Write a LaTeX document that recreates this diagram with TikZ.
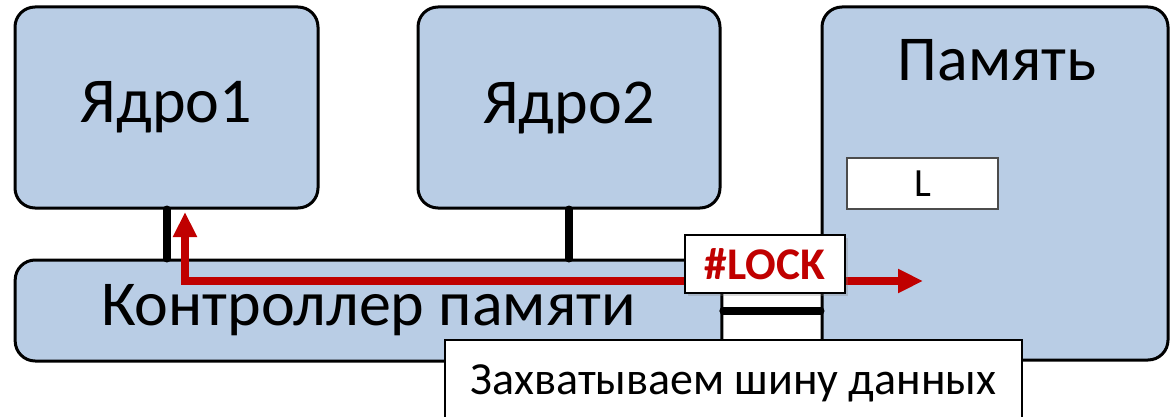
\documentclass[tikz,border=0pt]{standalone}
\usepackage{fontspec}
\setmainfont{Carlito}
\usetikzlibrary{arrows.meta,shadows}

\definecolor{unitblue}{RGB}{185,205,229}
\definecolor{lockred}{RGB}{192,0,0}

\begin{document}
\begin{tikzpicture}[x=0.75pt, y=-0.75pt,
        unit/.style={rectangle, draw=black, line width=2.25pt, rounded corners=15pt,
            fill=unitblue, inner sep=0pt, font=\fontsize{48}{52}\selectfont},
        cell/.style={rectangle, draw=black!70, line width=1.1pt, fill=white,
            minimum width=113pt, minimum height=38pt, font=\fontsize{30}{34}\selectfont},
        flag/.style={rectangle, draw=black, line width=1.6pt, fill=white,
            minimum width=120pt, minimum height=43.5pt,
            font=\fontsize{34}{38}\selectfont\bfseries, text=lockred,
            drop shadow={opacity=0.3, shadow xshift=2pt, shadow yshift=-2pt}},
        note/.style={rectangle, draw=black, line width=1.6pt, fill=white,
            minimum width=433pt, minimum height=63pt, font=\fontsize{34.5}{38}\selectfont},
        link/.style={line width=6pt, line cap=round, black},
        req/.style={line width=6pt, lockred,
            arrows={Triangle[length=18.75pt, width=17pt]-Triangle[length=18.75pt, width=17pt]}}
      ]
      % page
      \fill[white] (0,0) rectangle (1173,417);
      \useasboundingbox (0,0) rectangle (1173,417);

      % controller and memory
      \node[unit, minimum width=530pt, minimum height=75.75pt] at (368.5, 310.5) (ctrl) {Контроллер памяти};
      \node[unit, minimum width=259.5pt, minimum height=264.75pt] at (995, 183.5) (mem) {};
      \node[font=\fontsize{48}{52}\selectfont] at (997, 60) (memlbl) {Память};
      \node[cell] at (922.5, 183.5) (lcell) {L};

      % cores
      \node[unit, minimum width=227.25pt, minimum height=150.75pt] at (166.5, 107.5) (core1) {Ядро1};
      \node[unit, minimum width=226.5pt, minimum height=150.75pt] at (569, 107.5) (core2) {Ядро2};

      % bus links
      \draw[link] (core1.south) -- (ctrl.north -| core1.south);
      \draw[link] (core2.south) -- (ctrl.north -| core2.south);
      \draw[link] (ctrl.east) -- (mem.west |- ctrl.east);

      % lock request: from core1 along the bus into memory
      \coordinate (reqtop) at (185, 212);
      \coordinate (reqend) at (923, 281);
      \draw[req] (reqtop) |- (reqend);

      \node[flag] at (765, 264) (lock) {\#LOCK};

      % caption
      \node[note, minimum height=70pt] at (733.5, 387) (cap) {};
      \node[font=\fontsize{34.5}{38}\selectfont] at (733.5, 383) (captxt) {Захватываем шину данных};
    \end{tikzpicture}
\end{document}
